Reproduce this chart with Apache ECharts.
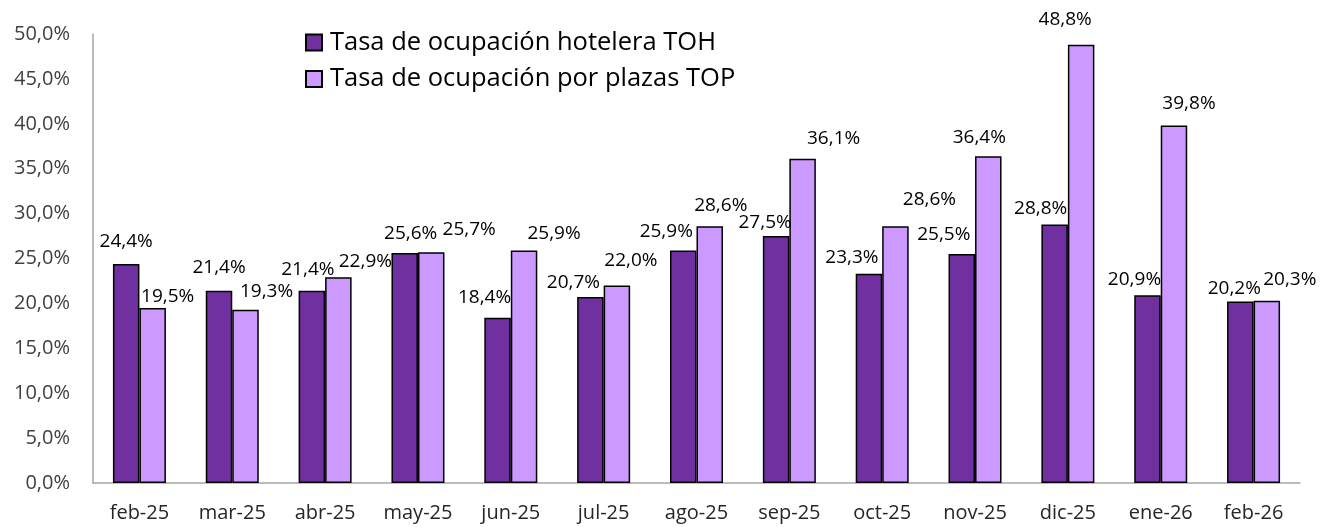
<!DOCTYPE html>
<html><head><meta charset="utf-8">
<script src="https://cdn.jsdelivr.net/npm/echarts@6/dist/echarts.min.js"></script>
<style>html,body{margin:0;padding:0;background:#fff}#c{width:1325px;height:527px}</style>
</head><body><div id="c"></div>
<script>
const categories = ['feb-25','mar-25','abr-25','may-25','jun-25','jul-25','ago-25','sep-25','oct-25','nov-25','dic-25','ene-26','feb-26'];
const seriesNames = ['Tasa de ocupación hotelera TOH','Tasa de ocupación por plazas TOP'];
const toh = [24.4,21.4,21.4,25.6,18.4,20.7,25.9,27.5,23.3,25.5,28.8,20.9,20.2];
const top_ = [19.5,19.3,22.9,25.7,25.9,22.0,28.6,36.1,28.6,36.4,48.8,39.8,20.3];

// label placement tweaks (layout only)
const tohOffsets = [[0,-12],[0,-13],[-4,-11],[6,-10],[-13,-10],[-17,-5],[-17,-9],[-11,-3],[-17,-6],[-18,-9],[-14,-6],[-13,-6],[-6,-3]];
const topOffsets = [[15,-1],[21,-8],[27,-6],[38,-13],[30,-7],[14,-15],[11,-11],[31,-10],[34,-17],[-9,-9],[-16,-15],[15,-12],[23,-11]];

const fmt = v => v.toFixed(1).replace('.', ',') + '%';
const FONT = 'Open Sans';

function mk(vals, offs) {
  return vals.map((v, i) => ({ value: v, label: { offset: offs[i] } }));
}

const chart = echarts.init(document.getElementById('c'), null, {renderer: 'canvas'});
chart.setOption({
  animation: false,
  backgroundColor: '#fff',
  grid: { left: 93, right: 25, top: 34, bottom: 44, containLabel: false },
  legend: {
    orient: 'vertical', left: 305, top: 29.5, padding: 0,
    itemWidth: 16, itemHeight: 16, itemGap: 10.5,
    icon: 'rect',
    textStyle: { fontFamily: FONT, fontSize: 25.5, color: '#000', lineHeight: 26, padding: [0,0,0,3] },
    data: seriesNames
  },
  xAxis: {
    type: 'category', data: categories,
    axisLine: { lineStyle: { color: '#A6A6A6', width: 1.5 } },
    axisTick: { show: false },
    axisLabel: { fontFamily: FONT, fontSize: 20, color: '#262626', margin: 20, interval: 0 }
  },
  yAxis: {
    type: 'value', min: 0, max: 50, interval: 5,
    axisLine: { show: true, lineStyle: { color: '#A6A6A6', width: 1.5 } },
    axisTick: { show: false },
    splitLine: { show: false },
    axisLabel: { fontFamily: FONT, fontSize: 20, color: '#404040', margin: 23, formatter: v => fmt(v) }
  },
  series: [
    {
      name: seriesNames[0], type: 'bar', data: mk(toh, tohOffsets),
      barWidth: 26.5, barGap: '0%',
      itemStyle: { color: '#7030A0', borderColor: '#000', borderWidth: 1.5 },
      label: { show: true, position: 'top', distance: 0, lineHeight: 20, fontFamily: FONT, fontSize: 19, color: '#000', formatter: p => fmt(p.value) }
    },
    {
      name: seriesNames[1], type: 'bar', data: mk(top_, topOffsets),
      barWidth: 26.5, barGap: '0%',
      itemStyle: { color: '#CC99FF', borderColor: '#000', borderWidth: 1.5 },
      label: { show: true, position: 'top', distance: 0, lineHeight: 20, fontFamily: FONT, fontSize: 19, color: '#000', formatter: p => fmt(p.value) }
    }
  ]
});
</script></body></html>
